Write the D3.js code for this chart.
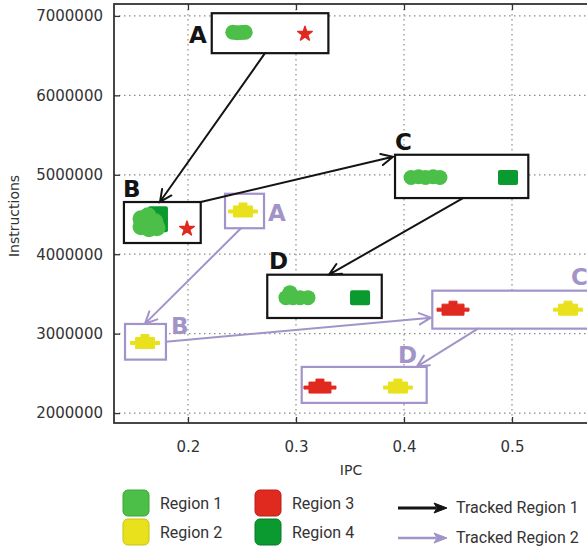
<!DOCTYPE html>
<html>
<head>
<meta charset="utf-8">
<script src="https://cdn.jsdelivr.net/npm/d3@7"></script>
<style>
  html, body { margin: 0; padding: 0; background: #fff; }
  svg { display: block; font-family: "DejaVu Sans", sans-serif; }
</style>
</head>
<body>
<svg id="chart" width="587" height="548"></svg>
<script>
// Axis ticks
const ipcTicks = [0.2, 0.3, 0.4, 0.5];
const instrTicks = [2000000, 3000000, 4000000, 5000000, 6000000, 7000000];

// Tracked Region 1: phase, IPC, instructions
const region1Points = [
  ["A", 0.2415, 6795000], ["A", 0.2455, 6788000], ["A", 0.2495, 6792000], ["A", 0.2530, 6795000],
  ["B", 0.1565, 4447000], ["B", 0.1565, 4346000], ["B", 0.1630, 4484000], ["B", 0.1639, 4320000],
  ["B", 0.1694, 4409000], ["B", 0.1713, 4333000], ["B", 0.1648, 4396000], ["B", 0.1583, 4396000],
  ["C", 0.4065, 4966000], ["C", 0.4135, 4975000], ["C", 0.4200, 4966000], ["C", 0.4270, 4975000], ["C", 0.4333, 4966000],
  ["D", 0.2907, 3453000], ["D", 0.2944, 3516000], ["D", 0.2972, 3453000], ["D", 0.3037, 3453000], ["D", 0.3111, 3453000]
];
const region4Points = [
  ["B", 0.1722, 4509000], ["B", 0.1722, 4371000],
  ["C", 0.4963, 4966000],
  ["D", 0.3593, 3453000]
];
const region3StarPoints = [
  ["A", 0.3083, 6786000],
  ["B", 0.1991, 4333000]
];

// Tracked Region 2: phase, IPC, instructions
const region2Points = [
  ["A", 0.2509, 4538000],
  ["B", 0.1602, 2883000],
  ["C", 0.5519, 3302000],
  ["D", 0.3944, 2321000]
];
const region3Points = [
  ["C", 0.4454, 3302000],
  ["D", 0.3222, 2321000]
];

// Phase boxes: phase, IPC from, IPC to, instructions from, instructions to
const tracked1Boxes = [
  ["A", 0.2220, 0.3300, 6531000, 7034000],
  ["B", 0.1407, 0.2118, 4141000, 4657000],
  ["C", 0.3917, 0.5151, 4707000, 5252000],
  ["D", 0.2734, 0.3794, 3197000, 3742000]
];
const tracked2Boxes = [
  ["A", 0.2343, 0.2704, 4327000, 4761000],
  ["B", 0.1417, 0.1796, 2673000, 3122000],
  ["C", 0.4262, 0.5900, 3063000, 3541000],
  ["D", 0.3053, 0.4210, 2128000, 2581000]
];

// Phase letters: text, IPC, instructions (left edge / baseline)
const tracked1Labels = [
  ["A", 0.2009, 6660000], ["B", 0.1398, 4723000], ["C", 0.3917, 5314000], ["D", 0.2750, 3818000]
];
const tracked2Labels = [
  ["A", 0.2741, 4421000], ["B", 0.1843, 3000000], ["C", 0.5546, 3616000], ["D", 0.3944, 2635000]
];

// Transitions between phases: [IPC, instr] from -> [IPC, instr] to
const tracked1Arrows = [
  [[0.2713, 6531000], [0.1741, 4660000]],
  [[0.2118, 4657000], [0.3898, 5226000]],
  [[0.4546, 4707000], [0.3306, 3742000]]
];
const tracked2Arrows = [
  [[0.2491, 4327000], [0.1602, 3126000]],
  [[0.1796, 2899000], [0.4250, 3201000]],
  [[0.4685, 3063000], [0.4120, 2585000]]
];

const legendRegions = ["Region 1", "Region 2", "Region 3", "Region 4"];
const legendTracks = ["Tracked Region 1", "Tracked Region 2"];

// ---------------------------------------------------------------
const C = {
  r1: "#4cbf49", r2: "#e8e11c", r3: "#e0291f", r4: "#0b9a30",
  track1: "#141414", track2: "#a294c9", axis: "#333", grid: "#8c8c8c", text: "#333"
};

const svg = d3.select("#chart");
const pLeft = 114, pRight = 593, pTop = 4, pBottom = 423;
const x = d3.scaleLinear().domain([0.1315, 0.575]).range([pLeft, pRight]);
const y = d3.scaleLinear().domain([1875000, 7150000]).range([pBottom, pTop]);

// dotted grid
const grid = svg.append("g");
grid.selectAll("line.gx").data(ipcTicks).join("line").attr("class", "gx")
  .attr("x1", d => x(d)).attr("x2", d => x(d)).attr("y1", pTop).attr("y2", pBottom)
  .attr("stroke", C.grid).attr("stroke-width", 1.2).attr("stroke-dasharray", "1.5,3.5");
grid.selectAll("line.gy").data(instrTicks).join("line").attr("class", "gy")
  .attr("y1", d => y(d)).attr("y2", d => y(d)).attr("x1", pLeft).attr("x2", pRight)
  .attr("stroke", C.grid).attr("stroke-width", 1.2).attr("stroke-dasharray", "1.5,3.5");

// axes with inward ticks
const xAxis = svg.append("g").attr("transform", `translate(0,${pBottom})`)
  .call(d3.axisBottom(x).tickValues(ipcTicks).tickSizeInner(-6).tickSizeOuter(0)
    .tickPadding(18).tickFormat(d3.format(".1f")));
const xTop = svg.append("g").attr("transform", `translate(0,${pTop})`)
  .call(d3.axisTop(x).tickValues(ipcTicks).tickSizeInner(-6).tickSizeOuter(0).tickFormat(""));
const yAxis = svg.append("g").attr("transform", `translate(${pLeft},0)`)
  .call(d3.axisLeft(y).tickValues(instrTicks).tickSizeInner(-6).tickSizeOuter(0)
    .tickPadding(11).tickFormat(d3.format("d")));
[xAxis, xTop, yAxis].forEach(g => {
  g.select(".domain").remove();
  g.selectAll(".tick line").attr("stroke", C.axis).attr("stroke-width", 1.3);
  g.selectAll(".tick text").attr("fill", C.text).attr("font-size", 15)
    .attr("font-family", "DejaVu Sans, sans-serif");
});

// plot frame
svg.append("rect").attr("x", pLeft).attr("y", pTop)
  .attr("width", pRight - pLeft).attr("height", pBottom - pTop)
  .attr("fill", "none").attr("stroke", C.axis).attr("stroke-width", 1.8);

// axis titles
svg.append("text").attr("x", 351).attr("y", 475).attr("text-anchor", "middle")
  .attr("font-size", 14).attr("fill", C.text).text("IPC");
svg.append("text").attr("transform", "translate(19,216) rotate(-90)").attr("text-anchor", "middle")
  .attr("font-size", 14).attr("fill", C.text).text("Instructions");

// phase boxes
function drawBoxes(rows, color) {
  svg.append("g").selectAll("rect").data(rows).join("rect")
    .attr("x", d => x(d[1])).attr("y", d => y(d[4]))
    .attr("width", d => x(d[2]) - x(d[1])).attr("height", d => y(d[3]) - y(d[4]))
    .attr("fill", "#fff").attr("stroke", color).attr("stroke-width", 2.2);
}
drawBoxes(tracked1Boxes, C.track1);
drawBoxes(tracked2Boxes, C.track2);

// phase letters
function drawLabels(rows, color) {
  svg.append("g").selectAll("text").data(rows).join("text")
    .attr("x", d => x(d[1])).attr("y", d => y(d[2]))
    .attr("font-size", 23).attr("font-weight", "bold").attr("fill", color)
    .text(d => d[0]);
}
drawLabels(tracked1Labels, C.track1);
drawLabels(tracked2Labels, C.track2);

// transition arrows with open heads
function arrowPath(x1, y1, x2, y2, len, spread) {
  const a = Math.atan2(y2 - y1, x2 - x1);
  const hx1 = x2 - len * Math.cos(a - spread), hy1 = y2 - len * Math.sin(a - spread);
  const hx2 = x2 - len * Math.cos(a + spread), hy2 = y2 - len * Math.sin(a + spread);
  return `M${x1},${y1}L${x2},${y2}M${hx1},${hy1}L${x2},${y2}L${hx2},${hy2}`;
}
function drawArrows(rows, color) {
  svg.append("g").selectAll("path").data(rows).join("path")
    .attr("d", d => arrowPath(x(d[0][0]), y(d[0][1]), x(d[1][0]), y(d[1][1]), 13, 0.45))
    .attr("fill", "none").attr("stroke", color).attr("stroke-width", 2)
    .attr("stroke-linejoin", "miter").attr("stroke-linecap", "round");
}
drawArrows(tracked1Arrows, C.track1);
drawArrows(tracked2Arrows, C.track2);

// markers: Tracked Region 1
const marks = svg.append("g");
marks.selectAll("rect.r4").data(region4Points).join("rect").attr("class", "r4")
  .attr("x", d => x(d[1]) - 10).attr("y", d => y(d[2]) - 7.5)
  .attr("width", 20).attr("height", 15).attr("rx", 2).attr("fill", C.r4);
marks.selectAll("circle.r1").data(region1Points).join("circle").attr("class", "r1")
  .attr("cx", d => x(d[1])).attr("cy", d => y(d[2]))
  .attr("r", d => d[0] === "B" ? 8.5 : 7.5).attr("fill", C.r1);
marks.selectAll("path.star").data(region3StarPoints).join("path").attr("class", "star")
  .attr("transform", d => `translate(${x(d[1])},${y(d[2]) + 1})`)
  .attr("d", d3.symbol(d3.symbolStar, 66)()).attr("fill", C.r3)
  .attr("stroke", C.r3).attr("stroke-width", 1.4).attr("stroke-linejoin", "round");

// markers: Tracked Region 2 (body with whiskers and a top tab)
function blockShape(w) {
  const h = w / 2;
  return `M${-h},-5.5H${h}V-1.5H${h + 5}V1.5H${h}V5.5H${-h}V1.5H${-h - 5}V-1.5H${-h}Z` +
         `M-4,-5.5V-8.5H4V-5.5Z`;
}
marks.selectAll("path.r3").data(region3Points).join("path").attr("class", "r3")
  .attr("transform", d => `translate(${x(d[1])},${y(d[2])})`)
  .attr("d", blockShape(22)).attr("fill", C.r3)
  .attr("stroke", C.r3).attr("stroke-width", 1).attr("stroke-linejoin", "round");
marks.selectAll("path.r2").data(region2Points).join("path").attr("class", "r2")
  .attr("transform", d => `translate(${x(d[1])},${y(d[2])})`)
  .attr("d", blockShape(19)).attr("fill", C.r2)
  .attr("stroke", C.r2).attr("stroke-width", 1).attr("stroke-linejoin", "round");

// legend
const legend = svg.append("g").attr("font-family", "Roboto, sans-serif").attr("font-size", 16).attr("fill", C.text);
const swatch = [C.r1, C.r2, C.r3, C.r4];
const swatchEdge = ["#3aa537", "#c9c20f", "#b91f17", "#087a25"];
const lx = d => d < 2 ? 123 : 255;
const ly = d => d % 2 === 0 ? 490 : 519;
legend.selectAll("rect").data(legendRegions).join("rect")
  .attr("x", (d, i) => lx(i)).attr("y", (d, i) => ly(i))
  .attr("width", 26).attr("height", 26).attr("rx", 5)
  .attr("fill", (d, i) => swatch[i]).attr("stroke", (d, i) => swatchEdge[i]).attr("stroke-width", 1);
legend.selectAll("text.reg").data(legendRegions).join("text").attr("class", "reg")
  .attr("x", (d, i) => lx(i) + 37).attr("y", (d, i) => ly(i) + 19).text(d => d);

const trackColors = [C.track1, C.track2];
legendTracks.forEach((t, i) => {
  const yy = i === 0 ? 508 : 538;
  legend.append("line").attr("x1", 398).attr("x2", 436).attr("y1", yy).attr("y2", yy)
    .attr("stroke", trackColors[i]).attr("stroke-width", i === 0 ? 3 : 2.4);
  legend.append("path").attr("d", `M434,${yy - 5}L447,${yy}L434,${yy + 5}L437,${yy}Z`)
    .attr("fill", trackColors[i]).attr("stroke", trackColors[i]).attr("stroke-width", 1);
  legend.append("text").attr("x", 456).attr("y", yy + 5).text(t);
});
</script>
</body>
</html>
